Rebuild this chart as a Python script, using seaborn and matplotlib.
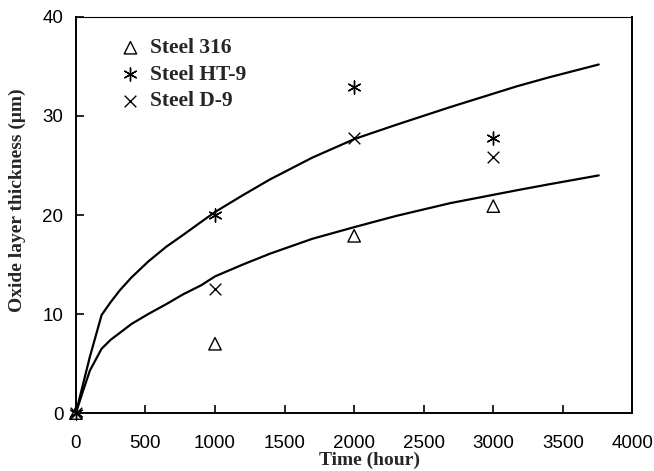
import matplotlib
matplotlib.use("Agg")
import matplotlib.pyplot as plt
import seaborn as sns
import pandas as pd

# measured data
times = [0, 1000, 2000, 3000]
steel_316 = [0, 7, 17.9, 20.9]
steel_ht9 = [0, 20, 32.9, 27.8]
steel_d9 = [0, 12.5, 27.8, 25.9]

# fitted curves
curve_t = [0, 53, 101, 185, 250, 316, 400, 520, 650, 772, 900, 1000, 1200, 1396, 1700,
           2007, 2300, 2691, 3170, 3400, 3758]
curve_upper = [0, 3.0, 5.7, 9.9, 11.2, 12.4, 13.7, 15.3, 16.8, 18.0, 19.3, 20.3, 22.0, 23.6, 25.8,
               27.7, 29.1, 30.9, 33.0, 33.9, 35.2]
curve_lower = [0, 2.3, 4.3, 6.5, 7.4, 8.1, 9.0, 10.0, 11.0, 12.0, 12.9, 13.8, 15.0, 16.1, 17.6,
               18.8, 19.9, 21.2, 22.5, 23.1, 24.0]

xticks = [0, 500, 1000, 1500, 2000, 2500, 3000, 3500, 4000]
yticks = [0, 10, 20, 30, 40]

sns.set_theme(style="ticks")
plt.rcParams['font.family'] = ['Liberation Sans', 'DejaVu Sans']

fig = plt.figure(figsize=(6.54, 4.71), dpi=100)
ax = fig.add_axes([0.116, 0.123, 0.851, 0.841])

df_u = pd.DataFrame({"t": curve_t, "y": curve_upper})
df_l = pd.DataFrame({"t": curve_t, "y": curve_lower})
sns.lineplot(data=df_u, x="t", y="y", ax=ax, color="black", lw=1.6, sort=False, estimator=None)
sns.lineplot(data=df_l, x="t", y="y", ax=ax, color="black", lw=1.6, sort=False, estimator=None)

d316 = pd.DataFrame({"t": times, "y": steel_316})
dht = pd.DataFrame({"t": times, "y": steel_ht9})
dd9 = pd.DataFrame({"t": times, "y": steel_d9})
sns.scatterplot(data=d316, x="t", y="y", ax=ax, marker="^", s=80, facecolors="none",
                edgecolor="black", linewidth=1.0, label="Steel 316", zorder=5, clip_on=False)
sns.scatterplot(data=dht, x="t", y="y", ax=ax, marker=(6, 2, 0), s=90, color="black",
                linewidth=1.0, label="Steel HT-9", zorder=5, clip_on=False)
sns.scatterplot(data=dd9, x="t", y="y", ax=ax, marker="x", s=70, color="black",
                linewidth=1.0, label="Steel D-9", zorder=5, clip_on=False)

ax.set_xlim(0, 4000)
ax.set_ylim(0, 40)
ax.set_xticks(xticks)
ax.set_yticks(yticks)
ax.set_xticklabels([str(v) for v in xticks])
ax.set_yticklabels([str(v) for v in yticks])
ax.tick_params(direction="in", length=6, width=1.2, labelsize=13.5, colors="black")
ax.tick_params(axis="x", pad=16)
ax.tick_params(axis="y", pad=9)
for sp in ax.spines.values():
    sp.set_color("black")
    sp.set_linewidth(1.4)
ax.spines["top"].set_linewidth(0.8)

serif = dict(family=["Liberation Serif", "DejaVu Serif"], weight="bold", size=14)
ax.set_xlabel("Time (hour)", fontdict=serif)
ax.set_ylabel("Oxide layer thickness (μm)", fontdict=serif)
ax.xaxis.set_label_coords(0.527, -0.097)
ax.yaxis.set_label_coords(-0.09, 0.538)

leg = ax.legend(loc="upper left", frameon=False,
                prop=dict(family=["Liberation Serif", "DejaVu Serif"], weight="bold", size=15.5),
                handletextpad=0.3, labelspacing=0.3, bbox_to_anchor=(0.04, 0.995), handlelength=1.2)

fig.savefig("out.png", dpi=100, facecolor="white")
